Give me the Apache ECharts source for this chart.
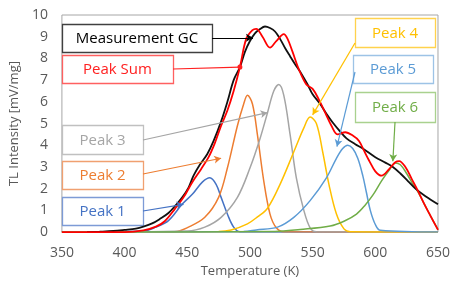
<!DOCTYPE html>
<html>
<head>
<meta charset="utf-8">
<script src="https://cdn.jsdelivr.net/npm/echarts@6/dist/echarts.min.js"></script>
<style>
  html, body { margin: 0; padding: 0; background: #fff; }
  #chart { width: 453px; height: 283px; }
</style>
</head>
<body>
<div id="chart"></div>
<script>
// values: [temperature K, intensity mV/mg]
var measurementGC = [[370,0],[380,0.02],[391,0.05],[400,0.1],[409,0.16],[415,0.25],[422,0.4],[428,0.6],[435,0.88],[441,1.25],[446,1.6],[451,2.05],[455,2.6],[460,3.1],[466,3.6],[471,4.2],[477,5.1],[482,6.0],[487,7.0],[492,7.6],[496,8.3],[500,8.8],[504,9.15],[508,9.35],[512,9.47],[516,9.4],[520,9.24],[524,8.9],[528,8.48],[532,8.1],[536,7.73],[541,7.3],[546,6.8],[550,6.35],[556,5.9],[561,5.45],[566,5.05],[571,4.7],[577,4.32],[584,4.05],[590,3.85],[600,3.45],[608,3.2],[614,3.0],[620,2.7],[626,2.35],[632,2.0],[640,1.65],[650,1.28]];
var peakSum = [[350,0],[400,0],[415,0.08],[425,0.25],[432,0.5],[440,1.06],[447,1.6],[454,2.3],[461,2.9],[467,3.45],[472,4.1],[477,4.9],[482,5.6],[487,6.5],[492,7.6],[497,8.9],[502,9.3],[505,9.36],[510,9.0],[516,8.5],[521,8.8],[527,9.12],[530,8.9],[534,8.3],[539,7.5],[545,6.8],[550,6.6],[555,6.1],[560,5.5],[565,4.9],[570,4.5],[576,4.6],[582,4.45],[587,4.2],[591,3.75],[595,3.3],[600,2.8],[605,2.6],[611,2.9],[616,3.22],[619,3.27],[624,3.0],[629,2.45],[634,1.9],[639,1.3],[644,0.75],[650,0.1]];
var peak1 = [[350,0],[415,0.05],[425,0.23],[435,0.53],[446,1.29],[454,1.74],[462,2.3],[468,2.5],[473,2.2],[477,1.6],[482,0.83],[487,0.23],[492,0.02],[650,0]];
var peak2 = [[350,0],[440,0.02],[451,0.23],[464,0.68],[475,1.6],[482,2.95],[490,4.9],[495,5.9],[498,6.3],[502,5.9],[506,4.47],[511,2.36],[516,0.83],[521,0.2],[527,0.02],[650,0]];
var peak3 = [[350,0],[450,0.05],[464,0.23],[477,0.68],[490,1.6],[500,2.95],[508,4.3],[514,5.5],[519,6.5],[523,6.8],[527,6.3],[532,4.5],[537,2.5],[543,1.0],[548,0.2],[553,0.02],[650,0]];
var peak4 = [[350,0],[475,0.03],[485,0.1],[498,0.38],[506,0.7],[514,1.1],[524,2.2],[535,3.7],[543,4.8],[548,5.3],[553,5.0],[558,3.7],[563,2.2],[569,0.83],[575,0.15],[580,0.02],[650,0]];
var peak5 = [[350,0],[495,0.03],[505,0.1],[522,0.23],[535,0.68],[548,1.45],[561,2.5],[569,3.4],[574,3.85],[578,4.0],[582,3.85],[586,3.4],[590,2.6],[593,1.8],[596,1.0],[600,0.35],[604,0.08],[650,0]];
var peak6 = [[350,0],[520,0.03],[540,0.12],[564,0.28],[575,0.5],[585,0.83],[592,1.25],[598,1.7],[605,2.36],[611,2.85],[616,3.18],[620,3.1],[625,2.7],[630,2.2],[634,1.85],[639,1.3],[644,0.75],[650,0.12]];
var xTicks = [350, 400, 450, 500, 550, 600, 650];

var font = '"Open Sans", sans-serif';

// callout boxes: text, colour, box [x, y, w, h], line start in pixels, arrow tip in data units
var callouts = [
    {name: 'Measurement GC', color: '#000000', border: '#404040', box: [62, 24, 150, 28], from: [212, 38], to: [502.4, 8.95], tip: 'arrow'},
    {name: 'Peak Sum', color: '#ff2020', border: '#ff6060', box: [62, 55, 111, 28], from: [173, 69], to: [492, 7.6], tip: 'circle'},
    {name: 'Peak 3', color: '#a5a5a5', border: '#c0c0c0', box: [62, 125, 81, 29], from: [143, 140], to: [514, 5.5], tip: 'arrow'},
    {name: 'Peak 2', color: '#ed7d31', border: '#f0a070', box: [62, 161, 81, 28], from: [143, 174], to: [477, 3.4], tip: 'arrow'},
    {name: 'Peak 1', color: '#4472c4', border: '#7d9bd6', box: [62, 197, 81, 28], from: [143, 211], to: [447, 1.28], tip: 'arrow'},
    {name: 'Peak 4', color: '#ffc000', border: '#ffd24d', box: [355, 18, 80, 29], from: [355, 43], to: [550, 5.4], tip: 'arrow'},
    {name: 'Peak 5', color: '#5b9bd5', border: '#9dc3e6', box: [353, 55, 80, 28], from: [355, 72], to: [569.4, 3.94], tip: 'arrow'},
    {name: 'Peak 6', color: '#70ad47', border: '#a9d18e', box: [355, 92, 80, 30], from: [395, 122], to: [614, 3.26], tip: 'arrow'}
];

function lineSeries(name, data, color, width, z) {
    return {
        name: name,
        type: 'line',
        data: data,
        smooth: 0.35,
        showSymbol: false,
        z: z,
        lineStyle: {color: color, width: width},
        itemStyle: {color: color}
    };
}

var series = [
    lineSeries('Peak 1', peak1, '#4472c4', 1.5, 2),
    lineSeries('Peak 2', peak2, '#ed7d31', 1.5, 2),
    lineSeries('Peak 3', peak3, '#a5a5a5', 1.5, 2),
    lineSeries('Peak 4', peak4, '#ffc000', 1.5, 2),
    lineSeries('Peak 5', peak5, '#5b9bd5', 1.5, 2),
    lineSeries('Peak 6', peak6, '#70ad47', 1.5, 2),
    lineSeries('Measurement GC', measurementGC, '#111111', 1.8, 3),
    lineSeries('Peak Sum', peakSum, '#ff0000', 1.8, 4)
];

// connector lines go on a blank helper series
series.push({
    type: 'line',
    data: [],
    z: 6,
    markLine: {
        silent: true,
        animation: false,
        label: {show: false},
        data: callouts.map(function (c) {
            return [
                {x: c.from[0], y: c.from[1], symbol: 'none'},
                {coord: c.to, symbol: c.tip, symbolSize: c.tip === 'circle' ? 5 : [6, 7]}
            ].map(function (p) {
                p.lineStyle = {color: c.color, width: 1.2, type: 'solid'};
                p.itemStyle = {color: c.color};
                return p;
            });
        })
    }
});

var graphics = callouts.map(function (c) {
    return {
        type: 'group',
        z: 20,
        children: [
            {
                type: 'rect',
                shape: {x: c.box[0] + 0.5, y: c.box[1] + 0.5, width: c.box[2], height: c.box[3]},
                style: {fill: '#ffffff', stroke: c.border, lineWidth: 1.3}
            },
            {
                type: 'text',
                x: c.box[0] + c.box[2] / 2,
                y: c.box[1] + c.box[3] / 2 + 1,
                style: {
                    text: c.name, fill: c.color, font: '15px ' + font,
                    align: 'center', verticalAlign: 'middle'
                }
            }
        ]
    };
});

var chart = echarts.init(document.getElementById('chart'), null, {renderer: 'canvas'});
chart.setOption({
    animation: false,
    backgroundColor: '#ffffff',
    grid: {left: 58, right: 13, top: 15, bottom: 48, show: true, borderColor: '#a6a6a6', borderWidth: 1},
    xAxis: {
        type: 'value',
        min: 350, max: 650, interval: 50,
        name: 'Temperature (K)',
        nameLocation: 'middle',
        nameGap: 32,
        nameTextStyle: {color: '#595959', fontSize: 13, fontFamily: font},
        axisLine: {show: false},
        axisTick: {show: false},
        splitLine: {show: false},
        axisLabel: {
            color: '#595959', fontSize: 14, fontFamily: font, margin: 14,
            formatter: function (v) { return xTicks.indexOf(v) >= 0 ? String(v) : ''; }
        }
    },
    yAxis: {
        type: 'value',
        min: 0, max: 10, interval: 1,
        name: 'TL Intensity [mV/mg]',
        nameLocation: 'middle',
        nameGap: 38,
        nameTextStyle: {color: '#595959', fontSize: 13, fontFamily: font},
        axisLine: {show: false},
        axisTick: {show: false},
        splitLine: {show: false},
        axisLabel: {color: '#595959', fontSize: 14, fontFamily: font, margin: 14}
    },
    graphic: graphics,
    series: series
});
</script>
</body>
</html>
